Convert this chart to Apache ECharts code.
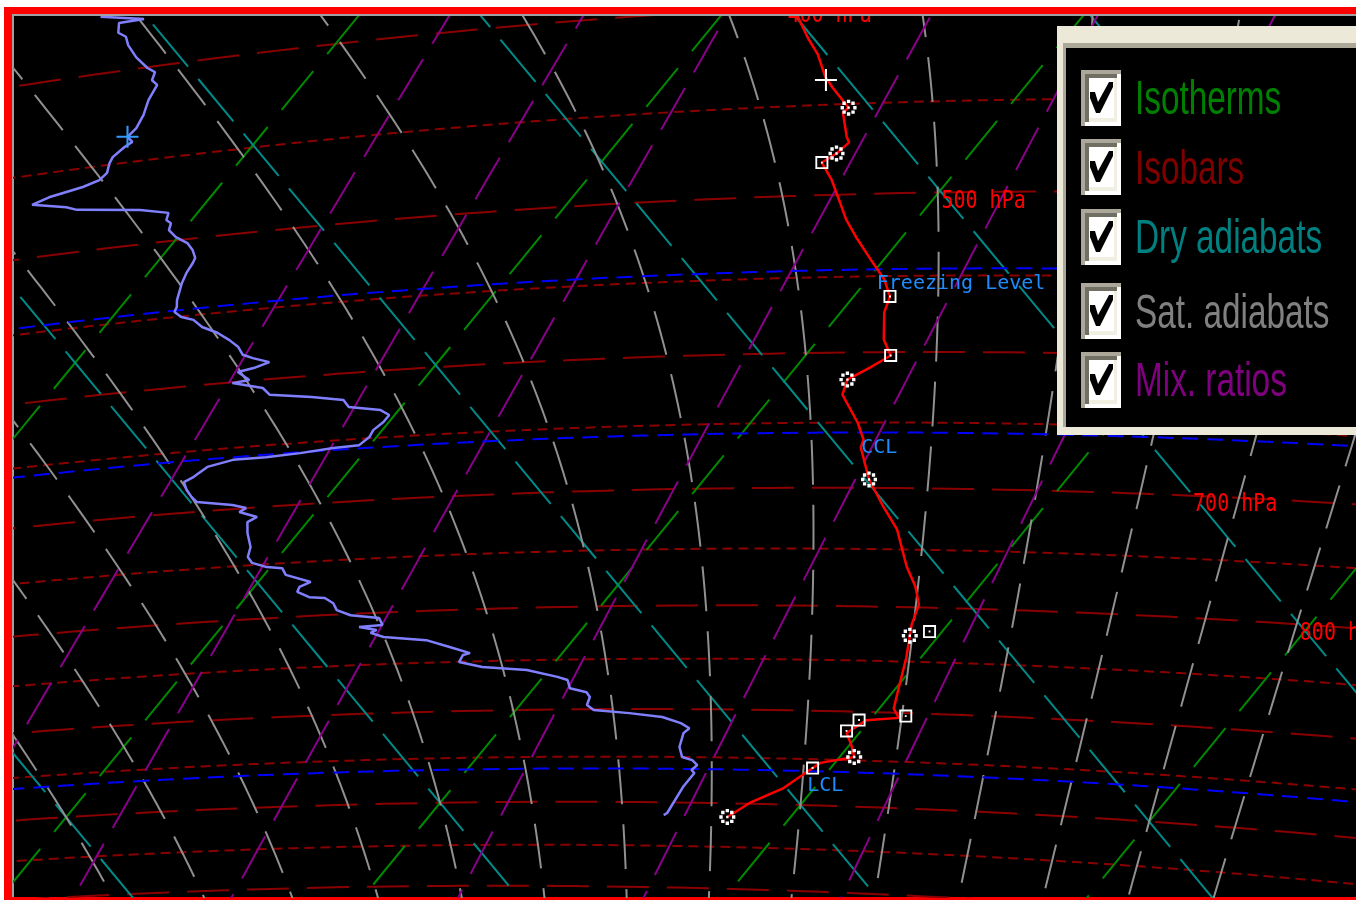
<!DOCTYPE html>
<html>
<head>
<meta charset="utf-8">
<script src="https://cdn.jsdelivr.net/npm/echarts@6/dist/echarts.min.js"></script>
<style>
  html, body { margin: 0; padding: 0; background: #ffffff; }
  #chart { width: 1356px; height: 900px; }
</style>
</head>
<body>
<div id="chart"></div>
<script>
// ---- Tephigram reference lines ----
const isothermTemps = [-120, -100, -80, -60, -40, -20, 0, 20, 40, 60];          // °C
const dryAdiabatThetas = [-80, -60, -40, -20, 0, 20, 40, 60, 80, 100, 120];     // potential temperature, °C
const isobarLevels = [300, 350, 400, 450, 500, 550, 600, 650, 700, 750, 800, 850, 900, 950, 1000, 1050, 1100, 1150]; // hPa
const satAdiabatThetaW = [-40, -35, -30, -25, -20, -15, -10, -5, 0, 5, 10, 15, 20, 25, 30, 35, 40, 45]; // °C at 1000 hPa
const mixingRatios = [0.5, 1, 2, 5, 10, 20];                                     // g/kg
const isobarLabelLevels = [400, 500, 600, 700, 800];                              // hPa
const isobarLabelTheta = 60;                                                      // labels sit on this dry adiabat (°C)

// ---- Derived levels ----
const levelNames = ['Freezing Level', 'CCL', 'LCL'];
const levelPressures = [545.6, 657.4, 962.8];   // hPa
const levelLabelTemps = [0.1, 6.6, 18.9];       // °C where the label starts

// ---- Sounding: [pressure hPa, temperature °C] ----
const tempProfile = [
  [398, -16.5], [405.1, -15.7], [416.2, -14.1], [424.0, -12.9], [435.3, -11.5], [441.1, -10.6],
  [452.0, -8.8], [454.4, -8.9], [467.5, -7.6], [470.7, -7.2], [476.6, -7.4], [481.4, -7.8],
  [491.2, -6.5], [504.6, -5.0], [514.7, -3.9], [525.1, -2.6], [541.2, -0.5], [551.9, 0.9],
  [563.0, 2.0], [573.3, 2.4], [591.4, 3.6], [602.3, 4.7], [610.6, 4.1], [618.9, 3.4],
  [629.6, 3.8], [650.0, 5.9], [662.8, 7.0], [668.7, 7.2], [693.4, 9.1], [714.8, 11.1],
  [733.4, 12.9], [764.4, 15.1], [781.7, 16.5], [797.5, 17.5], [815.6, 18.0], [825.8, 18.4],
  [846.4, 19.2], [877.3, 20.2], [895.9, 20.8], [905.0, 21.5], [908.3, 19.8], [921.8, 19.3],
  [934.1, 20.1], [946.5, 20.8], [953.7, 19.2], [959.4, 19.0], [981.8, 18.3], [999.1, 17.1],
  [1015.4, 16.5]
];
const dewProfile = [
  [371.7, -54.2], [375.8, -51.7], [376.0, -52.9], [380.7, -52.5], [383.2, -51.9], [387.5, -51.4],
  [394.2, -50.4], [400.4, -49.3], [403.0, -48.7], [407.0, -48.5], [409.8, -48.0], [417.1, -47.8],
  [424.8, -47.4], [431.5, -47.2], [435.6, -47.3], [438.8, -46.8], [441.1, -47.0], [445.9, -47.2],
  [449.2, -47.1], [454.5, -46.8], [458.1, -46.9], [460.9, -47.5], [464.3, -48.9], [467.4, -49.5],
  [471.6, -47.5], [474.0, -46.8], [478.8, -43.3], [482.6, -41.6], [486.8, -41.4], [489.1, -41.0],
  [493.2, -40.8], [498.0, -40.1], [502.5, -39.2], [507.2, -38.6], [512.4, -38.1], [515.5, -38.0],
  [521.6, -37.9], [527.7, -37.7], [538.7, -37.2], [543.3, -36.9], [546.6, -36.8], [550.4, -36.2],
  [553.2, -35.4], [558.7, -34.6], [563.7, -33.5], [569.6, -32.5], [575.0, -31.7], [580.8, -31.1],
  [583.8, -30.4], [587.7, -29.3], [591.0, -29.9], [592.9, -30.6], [599.4, -29.6], [600.6, -30.4],
  [606.1, -28.5], [611.6, -27.8], [615.6, -25.4], [619.6, -23.5], [625.0, -22.9], [629.0, -21.0],
  [633.1, -20.3], [638.2, -20.3], [643.9, -20.5], [649.1, -20.4], [654.9, -20.6], [655.8, -21.9],
  [658.1, -23.5], [659.4, -25.2], [659.5, -26.9], [663.5, -28.0], [670.7, -28.3], [674.4, -28.6],
  [681.1, -28.1], [687.3, -27.5], [691.7, -27.0], [696.5, -24.9], [699.9, -24.0], [702.9, -24.2],
  [708.1, -23.0], [711.9, -23.3], [721.4, -22.8], [733.8, -22.0], [742.5, -21.7], [748.0, -21.2],
  [752.6, -20.2], [754.4, -19.3], [760.7, -18.8], [768.4, -17.1], [772.4, -17.5], [776.8, -17.4],
  [782.3, -16.5], [783.9, -15.6], [789.1, -14.9], [795.7, -14.4], [801.2, -13.4], [805.1, -11.7],
  [811.7, -11.2], [812.8, -12.4], [816.3, -11.3], [818.9, -11.5], [823.3, -10.6], [827.9, -8.1],
  [835.3, -6.5], [841.8, -5.1], [843.4, -5.4], [850.3, -5.3], [855.7, -3.8], [859.7, -1.2],
  [867.0, 0.8], [870.2, 1.5], [878.5, 2.0], [882.7, 3.1], [887.6, 3.5], [895.7, 3.7],
  [900.9, 4.3], [904.2, 6.4], [908.2, 8.4], [914.4, 9.7], [919.6, 10.4], [924.8, 10.3],
  [939.4, 10.7], [950.0, 11.3], [953.3, 12.0], [958.5, 12.5], [963.9, 12.4], [967.2, 12.7],
  [982.7, 12.7], [1012.0, 13.0], [1014.4, 12.9]
];
const circleLevels = [[452.0, -8.8], [476.6, -7.4], [618.9, 3.4], [693.4, 9.1], [825.8, 18.4], [946.5, 20.8], [1015.4, 16.5]];
const squareLevels = [[481.4, -7.8], [563.0, 2.0], [602.3, 4.7], [821.5, 19.3], [903.0, 21.8], [908.3, 19.4], [919.7, 19.2], [959.4, 19.0]];
const tempCross = [[437.1, -11.3]];
const dewCross = [[435.6, -47.3]];

// ---- Legend entries ----
const legendNames = ['Isotherms', 'Isobars', 'Dry adiabats', 'Sat. adiabats', 'Mix. ratios'];
const legendColors = ['#008000', '#800000', '#008080', '#808080', '#800080'];

// ---- Tephigram projection: (T, ln θ) sheared onto the two value axes ----
const KAPPA = 0.2857, T0 = 273.15, THETA_REF = 293.15;
const SU = 275.95, SV = 280.18;
function project(tc, thetaK) {
  const L = Math.log(thetaK / THETA_REF);
  return [tc + SU * L, SV * L - tc];
}
function thetaOf(tc, p) { return (tc + T0) * Math.pow(1000 / p, KAPPA); }
function projTP(tc, p) { return project(tc, thetaOf(tc, p)); }

function isothermLine(tc) { return [project(tc, 120), project(tc, 900)]; }
function dryAdiabatLine(thC) { return [project(-200, thC + T0), project(120, thC + T0)]; }
function isobarLine(p) {
  const pts = [];
  for (let t = -130; t <= 80; t += 1) pts.push(projTP(t, p));
  return pts;
}
function satAdiabatLine(twC) {
  const f = (T, p) => {
    const tc = T - T0;
    const es = 6.112 * Math.exp(17.67 * tc / (tc + 243.5));
    const rs = 0.622 * es / (p - es);
    return (287.04 * T + 2.501e6 * rs) / (p * (1005.7 + 2.501e6 * 2.501e6 * rs * 0.622 / (287.04 * T * T)));
  };
  const step = (T, p, dp) => { const k1 = f(T, p); const k2 = f(T + k1 * dp / 2, p + dp / 2); return T + k2 * dp; };
  const up = [], down = [];
  let T = twC + T0, p = 1000;
  up.push([T, p]);
  while (p > 250) { T = step(T, p, -5); p -= 5; up.push([T, p]); }
  T = twC + T0; p = 1000;
  while (p < 1160) { T = step(T, p, 5); p += 5; down.push([T, p]); }
  return down.reverse().concat(up).map(([tk, pp]) => projTP(tk - T0, pp));
}
function mixingRatioLine(w) {
  const pts = [];
  for (let p = 1160; p >= 250; p -= 10) {
    const e = w * p / (622 + w);
    const l = Math.log(e / 6.112);
    const td = 243.5 * l / (17.67 - l);
    pts.push(projTP(td, p));
  }
  return pts;
}

const series = [];
function addLine(name, data, color, width, dash, z) {
  series.push({
    type: 'line', name, data, symbol: 'none', showSymbol: false, silent: true,
    animation: false, clip: true, z: z, connectNulls: false,
    lineStyle: { color, width, type: dash, cap: 'butt' },
    emphasis: { disabled: true }
  });
}

isobarLevels.forEach(p => {
  const major = p % 100 === 0;
  addLine('Isobars', isobarLine(p), '#8a0000', 2, major ? [42, 18] : [10, 6], 1);
});
isothermTemps.forEach(t => addLine('Isotherms', isothermLine(t), '#008a00', 2, [50, 22], 2));
dryAdiabatThetas.forEach(th => addLine('Dry adiabats', dryAdiabatLine(th), '#008a8a', 2, [55, 16], 2));
satAdiabatThetaW.forEach(tw => addLine('Sat. adiabats', satAdiabatLine(tw), '#909090', 2, [45, 20], 2));
mixingRatios.forEach(w => addLine('Mix. ratios', mixingRatioLine(w), '#8a008a', 2, [48, 18], 2));
levelPressures.forEach((p, i) => addLine(levelNames[i], isobarLine(p), '#0000ff', 2, [16, 9], 3));

addLine('Dew point', dewProfile.map(d => projTP(d[1], d[0])), '#8080ff', 2.5, 'solid', 4);
addLine('Temperature', tempProfile.map(d => projTP(d[1], d[0])), '#ff0000', 2.5, 'solid', 4);

// marker shapes
const ringPath = 'path://' + [0, 45, 90, 135, 180, 225, 270, 315].map(a => {
  const r = a * Math.PI / 180, cx = 8 + 6 * Math.cos(r), cy = 8 + 6 * Math.sin(r);
  return 'M' + (cx - 1.6).toFixed(2) + ',' + (cy - 1.6).toFixed(2) + 'h3.2v3.2h-3.2z';
}).join('') + 'M6.9,6.9h2.2v2.2h-2.2z';
const squarePath = 'path://M0,0H14V14H0Z M2,2V12H12V2Z M6,6H8V8H6Z';
const crossPath = 'path://M6.8,0H8.2V15H6.8Z M0,6.8H15V8.2H0Z';

function addMarkers(name, data, symbol, size, color) {
  series.push({
    type: 'scatter', name, data: data.map(d => projTP(d[1], d[0])), symbol, symbolSize: size,
    silent: true, animation: false, z: 5, itemStyle: { color, opacity: 1 }, emphasis: { disabled: true }
  });
}
addMarkers('Sig. levels', circleLevels, ringPath, 16, '#ffffff');
addMarkers('Std. levels', squareLevels, squarePath, 13, '#ffffff');
addMarkers('Temperature cursor', tempCross, crossPath, 22, '#ffffff');
addMarkers('Dew point cursor', dewCross, crossPath, 22, '#3399ff');

// text labels drawn in data space
function addLabels(name, points, texts, color, dx, dy, scaleY) {
  series.push({
    type: 'custom', name, silent: true, animation: false, clip: true, z: 6,
    data: points,
    renderItem: (params, api) => {
      const c = api.coord([api.value(0), api.value(1)]);
      return {
        type: 'text', x: c[0] + dx, y: c[1] + dy, scaleY: scaleY,
        style: { text: texts[params.dataIndex], fill: color, font: '20px "DejaVu Sans Mono"', textAlign: 'left', textVerticalAlign: 'top' }
      };
    }
  });
}
addLabels('Isobar labels',
  isobarLabelLevels.map(p => projTP((isobarLabelTheta + T0) * Math.pow(p / 1000, KAPPA) - T0, p)),
  isobarLabelLevels.map(p => p + ' hPa'), '#ff0000', 0, -3, 1.2);
addLabels('Level labels',
  levelPressures.map((p, i) => projTP(levelLabelTemps[i], p)),
  levelNames, '#1e8cff', -1, 5, 1);

// frame and legend panel
const graphic = [
  { type: 'rect', z: -10, silent: true, shape: { x: 4, y: 7, width: 1400, height: 900 }, style: { fill: '#ff0000' } },
  { type: 'rect', z: -9, silent: true, shape: { x: 12, y: 14, width: 1400, height: 883 }, style: { fill: '#a0a0a0' } },
  { type: 'rect', z: -8, silent: true, shape: { x: 14, y: 16, width: 1400, height: 881 }, style: { fill: '#000000' } },
  // top edge drawn over the plot so labels at the upper edge are cut off
  { type: 'rect', z: 50, silent: true, shape: { x: 0, y: 0, width: 1400, height: 7 }, style: { fill: '#ffffff' } },
  { type: 'rect', z: 50, silent: true, shape: { x: 4, y: 7, width: 1400, height: 7 }, style: { fill: '#ff0000' } },
  { type: 'rect', z: 50, silent: true, shape: { x: 12, y: 14, width: 1400, height: 2 }, style: { fill: '#a0a0a0' } },
  { type: 'rect', z: 100, silent: true, shape: { x: 1057, y: 26, width: 320, height: 409 }, style: { fill: '#ece9d8' } },
  { type: 'rect', z: 101, silent: true, shape: { x: 1063, y: 43, width: 320, height: 384 }, style: { fill: '#aca899' } },
  { type: 'rect', z: 102, silent: true, shape: { x: 1066, y: 48, width: 320, height: 379 }, style: { fill: '#000000' } }
];
const boxTops = [70, 139, 209, 283, 352];
const textMids = [100, 170, 239, 314, 382];
legendNames.forEach((name, i) => {
  const y = boxTops[i];
  graphic.push({
    type: 'group', x: 1081, y: y, z: 103, silent: true,
    children: [
      { type: 'rect', z: 103, shape: { x: 0, y: 0, width: 40, height: 56 }, style: { fill: '#aca899' } },
      { type: 'rect', z: 103, shape: { x: 4, y: 4, width: 36, height: 52 }, style: { fill: '#ffffff' } },
      { type: 'rect', z: 103, shape: { x: 4, y: 4, width: 32, height: 48 }, style: { fill: '#716f64' } },
      { type: 'rect', z: 103, shape: { x: 8, y: 8, width: 28, height: 44 }, style: { fill: '#f1efe2' } },
      { type: 'rect', z: 103, shape: { x: 8, y: 8, width: 25, height: 40 }, style: { fill: '#ffffff' } },
      { type: 'polygon', z: 104, shape: { points: [[9, 22], [14, 22], [17, 32], [28, 12], [32, 12], [32, 17], [19, 43], [15, 43], [9, 28]] }, style: { fill: '#000000' } }
    ]
  });
  graphic.push({
    type: 'text', z: 104, silent: true, x: 1135, y: textMids[i], scaleX: 0.68,
    style: { text: name, fill: legendColors[i], font: '49px "Liberation Sans"', textAlign: 'left', textVerticalAlign: 'middle' }
  });
});

const chart = echarts.init(document.getElementById('chart'), null, { renderer: 'canvas', width: 1356, height: 900 });
chart.setOption({
  animation: false,
  backgroundColor: '#ffffff',
  grid: { left: 14, top: 16, width: 1342, height: 881, show: false },
  xAxis: { type: 'value', min: -66.192, max: 80.877, show: false, splitLine: { show: false } },
  yAxis: { type: 'value', min: -28.364, max: 51.727, show: false, splitLine: { show: false } },
  tooltip: { show: false },
  graphic: graphic,
  series: series
});
</script>
</body>
</html>
